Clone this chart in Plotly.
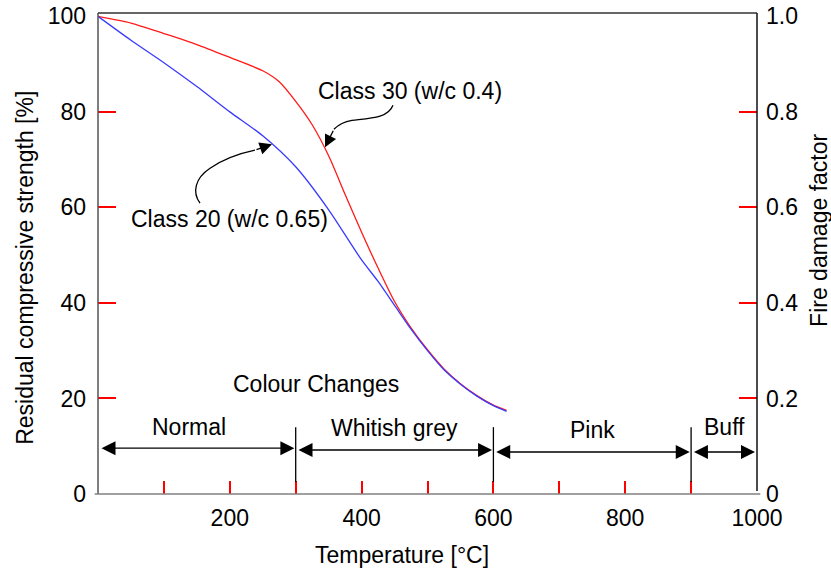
import plotly.graph_objects as go

# ---- data ----
temp_c30 = [0, 50, 100, 150, 200, 250, 275, 300, 325, 350, 375, 400, 425, 450,
            475, 500, 525, 550, 575, 600, 620]
strength_c30 = [100, 98.6, 96.4, 94.1, 91.4, 88.6, 86.3, 82.2, 77.3, 70.8, 62.7,
                54.8, 47.3, 40.3, 34.8, 30.2, 26.2, 23.1, 20.6, 18.6, 17.5]

temp_c20 = [0, 50, 100, 150, 200, 250, 300, 350, 400, 425, 450, 475, 500, 525,
            550, 575, 600, 620]
strength_c20 = [100, 95, 90.3, 85.3, 80, 75, 68.5, 59.5, 49, 44.5, 39.5, 34.5,
                30, 26, 23, 20.5, 18.5, 17.3]

x_tick_labels = [200, 400, 600, 800, 1000]
x_minor_ticks = [100, 200, 300, 400, 500, 600, 700, 800, 900]
y_left_ticks = [0, 20, 40, 60, 80, 100]
y_left_minor = [20, 40, 60, 80]
y_right_ticks = [0, 0.2, 0.4, 0.6, 0.8, 1.0]
y_right_text = ["0", "0.2", "0.4", "0.6", "0.8", "1.0"]
y_right_minor = [0.2, 0.4, 0.6, 0.8]

colour_bands = ["Normal", "Whitish grey", "Pink", "Buff"]
band_edges = [0, 300, 600, 900, 1000]

FONT = "Arial, Liberation Sans, sans-serif"
FS = 23
TICK_RED = "#ff0000"
TW = 1.5

fig = go.Figure()
fig.add_trace(go.Scatter(x=temp_c30, y=strength_c30, mode="lines",
                         line=dict(color="#ff1a1a", width=1.3, shape="spline", smoothing=0.7),
                         name="Class 30 (w/c 0.4)"))
fig.add_trace(go.Scatter(x=temp_c20, y=strength_c20, mode="lines",
                         line=dict(color="#3a3aff", width=1.3, shape="spline", smoothing=0.7),
                         name="Class 20 (w/c 0.65)"))
fig.add_trace(go.Scatter(x=[], y=[], yaxis="y2", showlegend=False))

annotations = []
shapes = []

# curved leaders
shapes.append(dict(type="path", xref="x", yref="y", layer="above",
                   path="M154.8,60.88 C142.6,63.18 147.2,66.11 170.0,68.20 C192.7,70.29 215.0,71.3 238.2,71.97",
                   line=dict(color="black", width=1.3)))
annotations.append(dict(x=264, y=73.2, ax=238.2, ay=71.97, xref="x", yref="y",
                        axref="x", ayref="y", text="", showarrow=True,
                        arrowhead=2, arrowsize=1.9, arrowwidth=1.3, arrowcolor="black"))
shapes.append(dict(type="path", xref="x", yref="y", layer="above",
                   path="M447.6,81.38 C440.1,78.66 412.7,78.66 385.4,78.24 C367.2,77.82 359.6,76.57 358.1,76.36",
                   line=dict(color="black", width=1.3)))
annotations.append(dict(x=344.5, y=72.59, ax=358.1, ay=76.36, xref="x", yref="y",
                        axref="x", ayref="y", text="", showarrow=True,
                        arrowhead=2, arrowsize=1.9, arrowwidth=1.3, arrowcolor="black"))

annotations.append(dict(x=200, y=57.6, xref="x", yref="y", text="Class 20 (w/c 0.65)",
                        showarrow=False, font=dict(size=FS)))
annotations.append(dict(x=473, y=84.3, xref="x", yref="y", text="Class 30 (w/c 0.4)",
                        showarrow=False, font=dict(size=FS)))
annotations.append(dict(x=331, y=23, xref="x", yref="y", text="Colour Changes",
                        showarrow=False, font=dict(size=FS)))

# colour-change bands
band_label_y = [14, 13.8, 13.4, 14]
band_arrow_y = [9.6, 9.2, 8.8, 8.8]
band_label_shift = [-12, 0, 0, 0]
for i, name in enumerate(colour_bands):
    a, b = band_edges[i], band_edges[i + 1]
    annotations.append(dict(x=b - 2 if i < 3 else b - 3, y=band_arrow_y[i],
                            ax=a + 2 if i > 0 else a + 3, ay=band_arrow_y[i],
                            xref="x", yref="y", axref="x", ayref="y",
                            text="", showarrow=True, arrowside="end+start",
                            arrowhead=2, startarrowhead=2, arrowsize=2.0, startarrowsize=2.0,
                            arrowwidth=1.4, arrowcolor="black"))
    annotations.append(dict(x=(a + b) / 2 + band_label_shift[i],
                            y=band_label_y[i], xref="x", yref="y", text=name,
                            showarrow=False, font=dict(size=FS)))
for e in band_edges[1:-1]:
    shapes.append(dict(type="line", xref="x", yref="y", x0=e, x1=e, y0=2.5, y1=14,
                       line=dict(color="black", width=1.3), layer="above"))

# axis titles
annotations.append(dict(x=0.461, y=-0.127, xref="paper", yref="paper",
                        xanchor="center", yanchor="middle",
                        text="Temperature [°C]", showarrow=False, font=dict(size=FS)))
annotations.append(dict(x=-0.111, y=0.47, xref="paper", yref="paper", textangle=-90,
                        xanchor="center", yanchor="middle",
                        text="Residual compressive strength [%]", showarrow=False,
                        font=dict(size=FS)))
annotations.append(dict(x=1.094, y=0.549, xref="paper", yref="paper", textangle=-90,
                        xanchor="center", yanchor="middle",
                        text="Fire damage factor", showarrow=False, font=dict(size=FS)))

# frame
shapes += [
    dict(type="line", xref="paper", yref="paper", x0=0, x1=0, y0=0, y1=1,
         line=dict(color="#555555", width=1.5), layer="above"),
    dict(type="line", xref="paper", yref="paper", x0=-0.005, x1=1.005, y0=0, y1=0,
         line=dict(color="#808080", width=1.5), layer="above"),
    dict(type="line", xref="paper", yref="paper", x0=0, x1=1, y0=1, y1=1,
         line=dict(color="#333333", width=1.3), layer="above"),
    dict(type="line", xref="paper", yref="paper", x0=1, x1=1, y0=0.006, y1=1,
         line=dict(color="#111111", width=1.5), layer="above"),
]

fig.update_layout(
    width=831, height=572,
    margin=dict(l=98, r=74, t=13, b=78, autoexpand=False),
    plot_bgcolor="white", paper_bgcolor="white",
    showlegend=False,
    font=dict(family=FONT, size=FS, color="black"),
    xaxis=dict(range=[0, 1000], tickmode="array", tickvals=x_tick_labels, ticks="",
               tickcolor=TICK_RED, automargin=False,
               showgrid=False, zeroline=False, showline=False, ticklabelstandoff=8,
               minor=dict(tickmode="array", tickvals=x_minor_ticks, ticks="inside",
                          ticklen=13, tickcolor=TICK_RED, tickwidth=TW, showgrid=False)),
    yaxis=dict(range=[0, 100.7], tickmode="array", tickvals=y_left_ticks, ticks="",
               tickcolor=TICK_RED, automargin=False,
               showgrid=False, zeroline=False, showline=False, ticklabelstandoff=11,
               minor=dict(tickmode="array", tickvals=y_left_minor, ticks="inside",
                          ticklen=18, tickcolor=TICK_RED, tickwidth=TW, showgrid=False)),
    yaxis2=dict(range=[0, 1.007], overlaying="y", side="right", tickmode="array",
                tickvals=y_right_ticks, ticktext=y_right_text, ticks="",
                tickcolor=TICK_RED, automargin=False,
                showgrid=False, zeroline=False, showline=False, ticklabelstandoff=8,
                minor=dict(tickmode="array", tickvals=y_right_minor, ticks="inside",
                           ticklen=18, tickcolor=TICK_RED, tickwidth=TW, showgrid=False)),
    annotations=annotations,
    shapes=shapes,
)

fig.write_html("out.html")
